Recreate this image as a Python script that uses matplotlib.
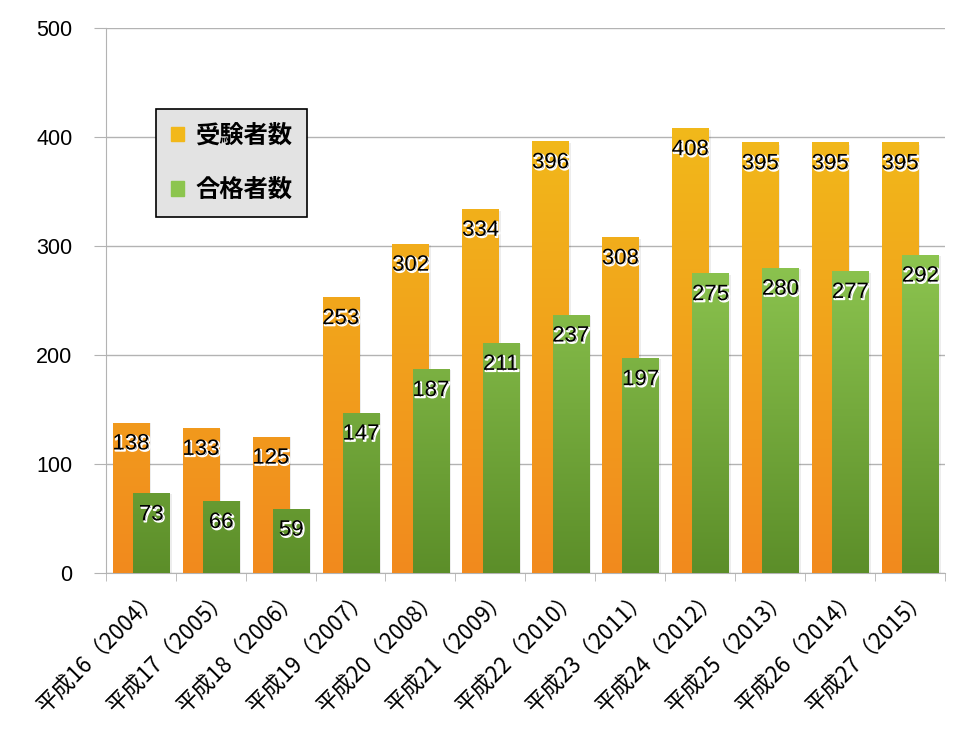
import matplotlib
matplotlib.use("Agg")
import matplotlib.pyplot as plt
import matplotlib.patheffects as pe
from matplotlib.colors import LinearSegmentedColormap
from matplotlib.patches import Rectangle
import numpy as np

plt.rcParams['font.family'] = ['Liberation Sans', 'Noto Sans CJK JP', 'DejaVu Sans']

years = ["平成16（2004）", "平成17（2005）", "平成18（2006）", "平成19（2007）",
         "平成20（2008）", "平成21（2009）", "平成22（2010）", "平成23（2011）",
         "平成24（2012）", "平成25（2013）", "平成26（2014）", "平成27（2015）"]
applicants = [138, 133, 125, 253, 302, 334, 396, 308, 408, 395, 395, 395]
passed = [73, 66, 59, 147, 187, 211, 237, 197, 275, 280, 277, 292]
series_names = ["受験者数", "合格者数"]

orange_cmap = LinearSegmentedColormap.from_list("org", ["#F18A1E", "#F2B91A"])
green_cmap = LinearSegmentedColormap.from_list("grn", ["#5C8E29", "#8EC651"])

fig = plt.figure(figsize=(9.8, 7.36), dpi=100)
ax = fig.add_axes([0.108, 0.2215, 0.856, 0.7405])

width = 0.52
x = np.arange(len(years))


def gradient_bars(xs, vals, cmap, top, z):
    bars = ax.bar(xs, vals, width, color="none", zorder=z)
    for b, v in zip(bars, vals):
        x0 = b.get_x()
        h = b.get_height()
        g = np.linspace(0, min(h / top, 1.0), 256).reshape(-1, 1)
        im = ax.imshow(g, cmap=cmap, vmin=0, vmax=1, origin="lower",
                       extent=(x0, x0 + width, 0, h), aspect="auto",
                       zorder=z, interpolation="bilinear")
        clip = Rectangle((x0, 0), width, h, transform=ax.transData)
        im.set_clip_path(clip)
        # soft shadow on the right side
        ax.add_patch(Rectangle((x0 + width, 0), 0.03, h * 0.995,
                               color="#000000", alpha=0.07, lw=0, zorder=z - 0.1))
    return bars


gradient_bars(x - 0.14, applicants, orange_cmap, 410.0, 3)
gradient_bars(x + 0.15, passed, green_cmap, 300.0, 4)

shadow = [pe.Stroke(linewidth=1.2, foreground="white", offset=(1, -1)), pe.Normal()]
for i in range(len(years)):
    ax.text(x[i] - 0.14, applicants[i] - 10, str(applicants[i]), ha="center", va="top",
            fontsize=16, color="black", zorder=6, path_effects=shadow)
    ax.text(x[i] + 0.15, passed[i] - 10, str(passed[i]), ha="center", va="top",
            fontsize=16, color="black", zorder=6, path_effects=shadow)

ax.set_xlim(-0.5, len(years) - 0.5)
ax.set_ylim(0, 500)
ax.set_yticks(range(0, 501, 100))
ax.yaxis.grid(True, color="#B3B3B3", linewidth=1)
ax.set_axisbelow(True)
ax.tick_params(axis="y", length=9, color="#B3B3B3", labelsize=15.5, pad=15)

ax.set_xticks(x + 0.1)
ax.set_xticks(np.arange(-0.5, len(years), 1), minor=True)
ax.set_xticklabels(years, rotation=45, ha="right", rotation_mode="anchor",
                   fontsize=16, family=["Noto Sans CJK JP", "DejaVu Sans"])
ax.tick_params(axis="x", which="major", length=0, pad=9)
ax.tick_params(axis="x", which="minor", length=6, color="#B3B3B3")

for s in ["top", "right"]:
    ax.spines[s].set_visible(False)
for s in ["left", "bottom"]:
    ax.spines[s].set_color("#B3B3B3")

# legend
handles = [Rectangle((0, 0), 1, 1, color="#F2B81A"), Rectangle((0, 0), 1, 1, color="#8CC54E")]
leg = ax.legend(handles, series_names, loc="upper left", bbox_to_anchor=(0.06, 0.851),
                borderaxespad=0,
                prop={"family": ["Noto Sans CJK JP", "DejaVu Sans"], "size": 17.5, "weight": "bold"},
                handlelength=0.55, handleheight=0.55, handletextpad=0.45,
                labelspacing=1.25, borderpad=0.6, fancybox=False, framealpha=1)
leg.get_frame().set_facecolor("#E3E3E3")
leg.get_frame().set_edgecolor("black")
leg.get_frame().set_linewidth(1.2)

fig.savefig("out.png", dpi=100)
